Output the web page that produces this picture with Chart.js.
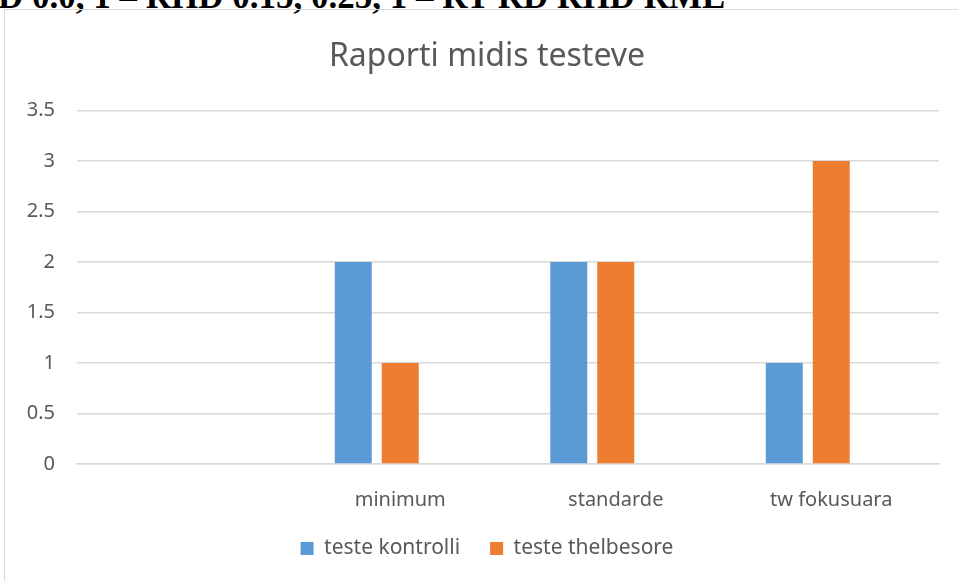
<!DOCTYPE html>
<html lang="sq">
  <head>
    <meta charset="UTF-8" />
    <title>Raporti midis testeve</title>
    <script src="https://cdn.jsdelivr.net/npm/chart.js"></script>
    <style>
      body {
        margin: 0;
        width: 958px;
        height: 581px;
        overflow: hidden;
        background: #ffffff;
        position: relative;
        font-family: "Noto Sans", sans-serif;
      }
      .cut-text {
        position: absolute;
        left: -2px;
        top: -21px;
        font-family: "Liberation Serif", serif;
        font-weight: bold;
        font-size: 35px;
        line-height: 35px;
        white-space: nowrap;
        color: #000;
      }
      .frame {
        position: absolute;
        left: 4px;
        top: 9px;
        width: 1000px;
        height: 700px;
        border: 1.5px solid #d9d9d9;
      }
      .chart-box {
        position: absolute;
        left: 0;
        top: 0;
        width: 958px;
        height: 581px;
      }
    </style>
  </head>
  <body>
    <div class="cut-text">D 0.0, 1 – RHD 0.15, 0.25, 1 – RT RD RHD RME</div>
    <div class="frame"></div>
    <div class="chart-box">
      <canvas id="chart"></canvas>
    </div>

    <script>
      // values
      const categories = ["", "minimum", "standarde", "tw fokusuara"];
      const kontrolli = [null, 2, 2, 1];
      const thelbesore = [null, 1, 2, 3];
      const emptySeries = [null, null, null, null]; // third series, no values
      const yTicks = [0, 0.5, 1, 1.5, 2, 2.5, 3, 3.5];

      const textColor = "#595959";
      const gridColor = "#d9d9d9";

      new Chart(document.getElementById("chart"), {
        type: "bar",
        data: {
          labels: categories,
          datasets: [
            {
              label: "teste kontrolli",
              data: kontrolli,
              backgroundColor: "#5b9bd5",
            },
            {
              label: "teste thelbesore",
              data: thelbesore,
              backgroundColor: "#ed7d31",
            },
            {
              label: "",
              data: emptySeries,
              backgroundColor: "transparent",
            },
          ],
        },
        options: {
          responsive: true,
          maintainAspectRatio: false,
          animation: false,
          layout: {
            padding: { left: 24, right: 8, top: 0, bottom: 12 },
          },
          datasets: {
            bar: {
              categoryPercentage: 0.654,
              barPercentage: 0.787,
            },
          },
          scales: {
            x: {
              grid: { display: false },
              border: { display: true, color: gridColor, width: 1.5 },
              ticks: {
                color: textColor,
                font: { family: "Noto Sans", size: 20 },
                padding: 16,
              },
              afterFit: (scale) => {
                scale.height = 44;
              },
            },
            y: {
              min: 0,
              max: 3.5,
              afterBuildTicks: (scale) => {
                scale.ticks = yTicks.map((v) => ({ value: v }));
              },
              grid: { color: gridColor, lineWidth: 1.5, drawTicks: false },
              border: { display: false },
              ticks: {
                color: textColor,
                font: { family: "Noto Sans", size: 20 },
                padding: 22,
                callback: (v) => String(v),
              },
              afterFit: (scale) => {
                scale.width = 53;
              },
            },
            // empty strip on the right so the title and legend sit centred like the original
            spacer: {
              position: "right",
              grid: { display: false },
              border: { display: false },
              ticks: { display: false },
              afterFit: (scale) => {
                scale.width = 11;
              },
            },
          },
          plugins: {
            title: {
              display: true,
              text: "Raporti midis testeve",
              color: textColor,
              font: { family: "Noto Sans", size: 32, weight: "normal" },
              padding: { top: 38, bottom: 34 },
            },
            legend: {
              position: "bottom",
              labels: {
                color: textColor,
                font: { family: "Noto Sans", size: 21 },
                boxWidth: 13,
                boxHeight: 13,
                padding: 30,
                filter: (item) => item.text !== "",
              },
            },
            tooltip: { enabled: false },
          },
        },
      });
    </script>
  </body>
</html>
